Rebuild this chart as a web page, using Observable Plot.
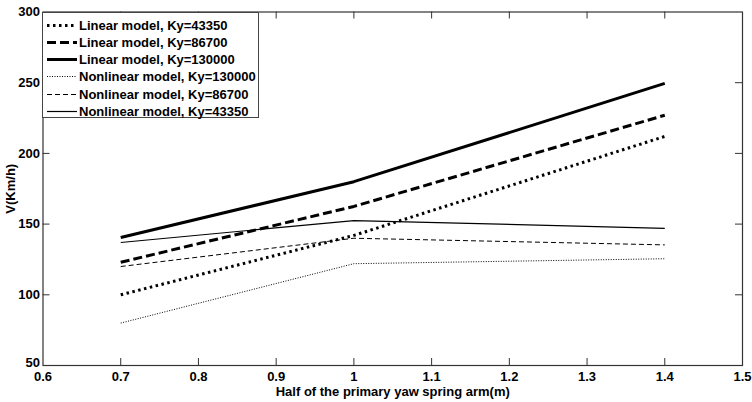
<!DOCTYPE html>
<html><head><meta charset="utf-8">
<script src="https://cdn.jsdelivr.net/npm/d3@7"></script>
<script src="https://cdn.jsdelivr.net/npm/@observablehq/plot@0.6"></script>
<style>
body{margin:0;background:#fff;}
#wrap{position:relative;width:752px;height:402px;font-family:"Liberation Sans",Arial,sans-serif;font-weight:bold;}
#legend{position:absolute;left:42px;top:12px;width:217px;height:106px;border:1px solid #444;background:#fff;box-sizing:border-box;}
.row{position:absolute;left:0;height:17px;display:flex;align-items:center;font-size:13px;color:#000;white-space:nowrap;}
.row svg{margin-left:4px;margin-right:2px;}
</style></head><body><div id="wrap"></div>
<script>
const xValues = [0.7, 1.0, 1.4];
const linear43350 = [100, 142, 212];
const linear86700 = [123, 162.5, 227];
const linear130000 = [140.5, 180, 249.5];
const nonlinear130000 = [80, 122, 125.5];
const nonlinear86700 = [120, 140, 135.3];
const nonlinear43350 = [137, 152.5, 147];
const seriesNames = ["Linear model, Ky=43350","Linear model, Ky=86700","Linear model, Ky=130000","Nonlinear model, Ky=130000","Nonlinear model, Ky=86700","Nonlinear model, Ky=43350"];
const seriesValues = [linear43350, linear86700, linear130000, nonlinear130000, nonlinear86700, nonlinear43350];
const xTicks = [0.6,0.7,0.8,0.9,1.0,1.1,1.2,1.3,1.4,1.5];
const yTicks = [50,100,150,200,250,300];
const xLabel = "Half of the primary yaw spring arm(m)";
const yLabel = "V(Km/h)";

const styles = [
  {strokeWidth: 3, strokeDasharray: "2.5,3.5"},
  {strokeWidth: 3, strokeDasharray: "9,4"},
  {strokeWidth: 3, strokeDasharray: null},
  {strokeWidth: 1, strokeDasharray: "1,1.5"},
  {strokeWidth: 1, strokeDasharray: "5,3"},
  {strokeWidth: 1.2, strokeDasharray: null}
];

const W = 752, H = 402, mL = 42.5, mR = 10, mT = 11.5, mB = 37;
const fw = W - mL - mR, fh = H - mT - mB, tk = 7;

const data = seriesNames.flatMap((name, i) => xValues.map((x, j) => ({name, x, y: seriesValues[i][j]})));

const lineMarks = seriesNames.map((name, i) => Plot.line(data.filter(d => d.name === name), {
  x: "x", y: "y", stroke: "#000", strokeWidth: styles[i].strokeWidth,
  strokeDasharray: styles[i].strokeDasharray, strokeLinecap: "butt", strokeLinejoin: "round"
}));

const inner = xTicks.slice(1, -1), innerY = yTicks.slice(1, -1);

const chart = Plot.plot({
  width: W, height: H,
  marginLeft: mL, marginRight: mR, marginTop: mT, marginBottom: mB,
  style: {fontFamily: "'Liberation Sans', Arial, sans-serif", fontSize: "13px", fontWeight: "bold", color: "#000", background: "#fff"},
  x: {domain: [0.6, 1.5]},
  y: {domain: [50, 300]},
  marks: [
    Plot.axisX(xTicks, {tickSize: 0, tickPadding: 6, tickFormat: d => String(+d.toFixed(1)), label: xLabel, labelAnchor: "center", labelArrow: "none", labelOffset: 30}),
    Plot.axisY(yTicks.slice(1), {tickSize: 0, tickPadding: 3, label: yLabel, labelAnchor: "center", labelArrow: "none", labelOffset: 37}),
    Plot.axisY(yTicks.slice(0, 1), {tickSize: 0, tickPadding: 3, dy: -3, label: null}),
    Plot.ruleX(inner, {stroke: "#333", insetTop: fh - tk}),
    Plot.ruleX(inner, {stroke: "#333", insetBottom: fh - tk}),
    Plot.ruleY(innerY, {stroke: "#333", insetRight: fw - tk}),
    Plot.ruleY(innerY, {stroke: "#333", insetLeft: fw - tk}),
    ...lineMarks,
    Plot.frame({stroke: "#333", strokeWidth: 1.2})
  ]
});
const wrap = document.getElementById("wrap");
wrap.appendChild(chart);

const legend = document.createElement("div");
legend.id = "legend";
seriesNames.forEach((name, i) => {
  const row = document.createElement("div");
  row.className = "row";
  row.style.top = (3.5 + i * 17.3) + "px";
  const s = styles[i];
  row.innerHTML = `<svg width="30" height="17"><line x1="0" x2="30" y1="8.5" y2="8.5" stroke="#000" stroke-width="${s.strokeWidth}" ${s.strokeDasharray ? `stroke-dasharray="${s.strokeDasharray}"` : ""}/></svg><span>${name}</span>`;
  legend.appendChild(row);
});
wrap.appendChild(legend);
</script>
</body></html>
